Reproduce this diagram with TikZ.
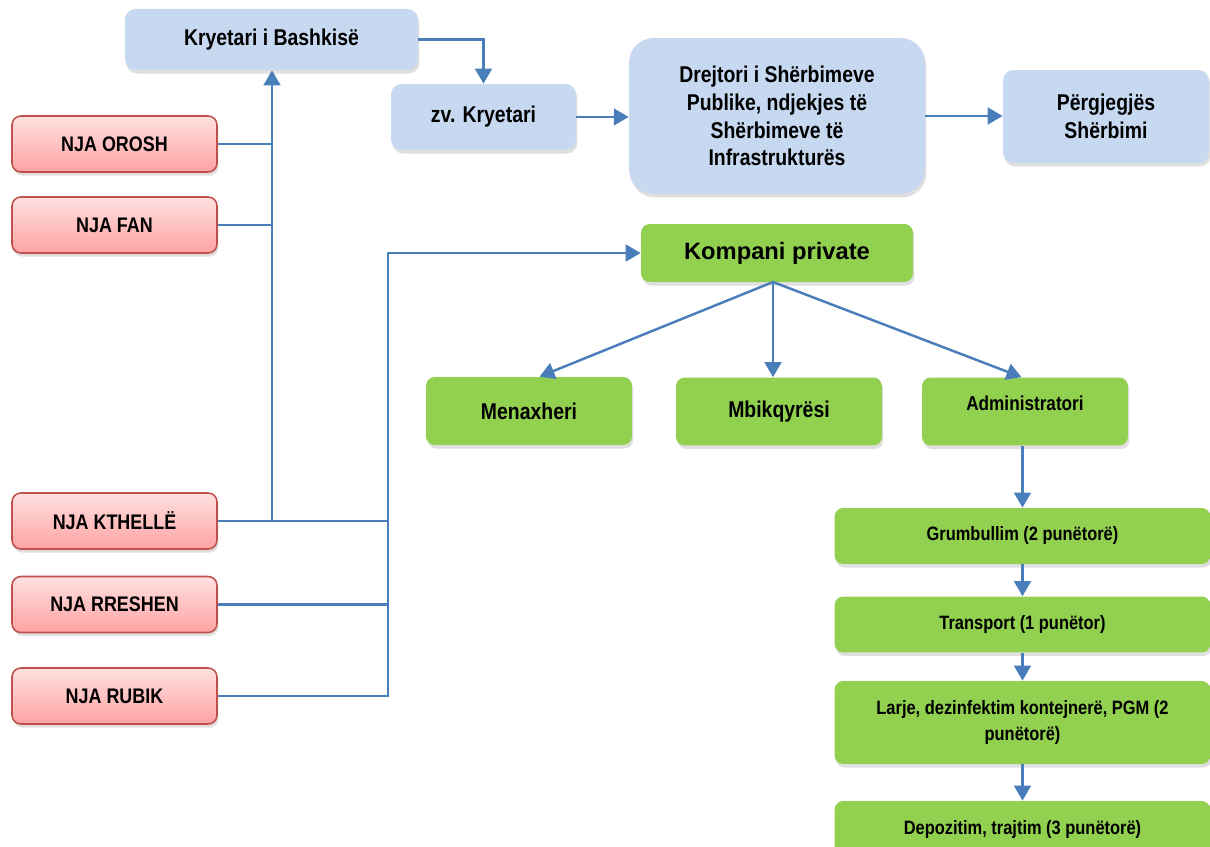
\documentclass[tikz,border=0pt]{standalone}
\usepackage{fontspec}
\setmainfont{Liberation Sans}[FakeStretch=0.85]
\newfontfamily\widefont{Liberation Sans}
\usetikzlibrary{arrows.meta,shadows}
\definecolor{boxblue}{RGB}{198,217,241}
\definecolor{linkblue}{RGB}{74,126,187}
\definecolor{leaf}{RGB}{146,208,80}
\definecolor{redtop}{RGB}{255,224,224}
\definecolor{redbot}{RGB}{255,163,163}
\definecolor{redline}{RGB}{192,80,77}
\begin{document}
\begin{tikzpicture}[x=0.02cm,y=-0.02cm,
  soft/.style={drop shadow={opacity=0.25,shadow xshift=0.8pt,shadow yshift=-2pt}},
  head/.style={soft,fill=boxblue,rounded corners=6pt,align=center,
    font=\fontsize{13}{15.8}\selectfont\bfseries},
  nja/.style={soft,draw=redline,line width=0.9pt,top color=redtop,bottom color=redbot,
    rounded corners=5pt,minimum width=4.1cm,minimum height=1.12cm,
    font=\fontsize{12}{14}\selectfont\bfseries},
  firm/.style={soft,fill=leaf,rounded corners=5pt,align=center,minimum width=4.12cm,
    minimum height=1.36cm,font=\fontsize{13}{15}\selectfont\bfseries},
  flow/.style={soft,fill=leaf,rounded corners=5pt,align=center,minimum width=7.52cm,
    minimum height=1.12cm,font=\fontsize{11}{14.7}\selectfont\bfseries},
  link/.style={draw=linkblue,line width=1.4pt},
  feed/.style={link,-{Triangle[width=9.5pt,length=8.5pt]}}]
\useasboundingbox (0,0) rectangle (1210,847);
\clip (0,0) rectangle (1210,847);
% blue chain
\node[head,minimum width=5.86cm,minimum height=1.22cm] (kb) at (271.5,39.5) {Kryetari i Bashkisë};
\node[head,minimum width=3.7cm,minimum height=1.32cm] (zv) at (483.5,117) {zv. Kryetari};
\node[head,rounded corners=14pt,minimum width=5.92cm,minimum height=3.12cm] (drej) at (777,116)
  {Drejtori i Shërbimeve\\Publike, ndjekjes të\\Shërbimeve të\\Infrastrukturës};
\node[head,minimum width=4.12cm,minimum height=1.86cm] (perg) at (1106,116.5) {Përgjegjës\\Shërbimi};
% njesite administrative
\node[nja] (orosh) at (114.5,144) {NJA OROSH};
\node[nja] (fan) at (114.5,225) {NJA FAN};
\node[nja] (kthelle) at (114.5,521) {NJA KTHELLË};
\node[nja] (rreshen) at (114.5,604.5) {NJA RRESHEN};
\node[nja] (rubik) at (114.5,696) {NJA RUBIK};
% kompania
\node[firm,minimum width=5.44cm,minimum height=1.16cm,font=\widefont\fontsize{13.5}{16}\selectfont\bfseries]
  (komp) at (777,253) {Kompani private};
\node[firm] (men) at (529,411) {Menaxheri};
\node[firm] (mbi) at (779,411.5) {Mbikqyrësi};
\node[firm,font=\fontsize{11.5}{14}\selectfont\bfseries,text height=9pt,text depth=10pt]
  (adm) at (1025,411.5) {Administratori};
\node[flow] (grum) at (1022.5,536) {Grumbullim (2 punëtorë)};
\node[flow] (trans) at (1022.5,624.5) {Transport (1 punëtor)};
\node[flow,minimum height=1.66cm] (larje) at (1022.5,722.5) {Larje, dezinfektim kontejnerë, PGM (2\\punëtorë)};
\node[flow] (depo) at (1022.5,829) {Depozitim, trajtim (3 punëtorë)};
% lidhjet
\coordinate (ja) at (272,0);
\coordinate (jb) at (388,0);
\coordinate (kp) at (773,282);
\draw[link] (orosh.east) -- (orosh.east -| ja);
\draw[link] (fan.east) -- (fan.east -| ja);
\draw[feed] (kthelle.east -| ja) -- (kb.south -| ja);
\draw[link] (kthelle.east) -- (kthelle.east -| jb);
\draw[link] (rreshen.east) -- (rreshen.east -| jb);
\draw[feed] (rubik.east) -- (rubik.east -| jb) |- (komp.west);
\draw[feed] (kb.east) -| (zv.north);
\draw[feed] (zv.east) -- (zv.east -| drej.west);
\draw[feed] (drej.east) -- (drej.east -| perg.west);
\draw[feed] (kp) -- ([xshift=6pt]men.north);
\draw[feed] (kp) -- (kp |- mbi.north);
\draw[feed] (kp) -- ([xshift=-2pt]adm.north);
\draw[feed] (grum.north |- adm.south) -- (grum.north);
\draw[feed] (grum) -- (trans);
\draw[feed] (trans) -- (larje);
\draw[feed] (larje) -- (depo);
\end{tikzpicture}
\end{document}
